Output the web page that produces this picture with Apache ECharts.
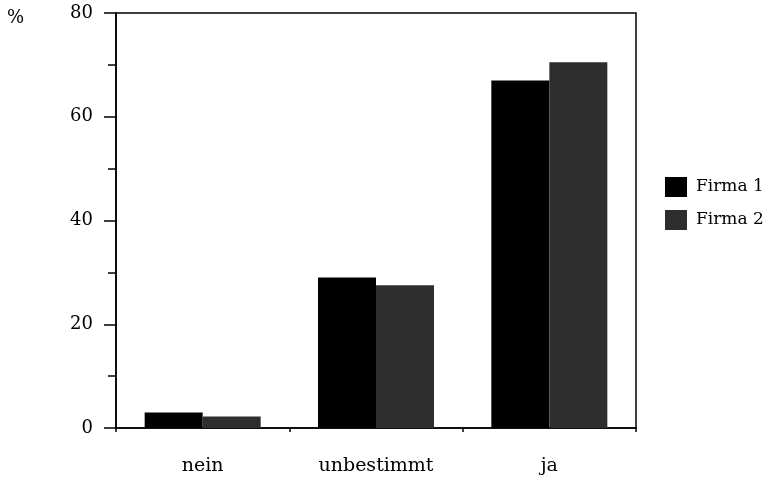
<!DOCTYPE html>
<html>
<head>
<meta charset="utf-8">
<script src="https://cdn.jsdelivr.net/npm/echarts@6/dist/echarts.min.js"></script>
<style>html,body{margin:0;padding:0;background:#fff}#c{width:771px;height:483px}</style>
</head>
<body>
<div id="c"></div>
<script>
const categories = ['nein', 'unbestimmt', 'ja'];
const firma1 = [3, 29, 67];
const firma2 = [2.2, 27.5, 70.5];
const seriesNames = ['Firma 1', 'Firma 2'];
const yTicks = [0, 20, 40, 60, 80];

const chart = echarts.init(document.getElementById('c'), null, {renderer: 'canvas'});
const font = 'DejaVu Serif';
chart.setOption({
  animation: false,
  backgroundColor: '#fff',
  title: {text: '%', left: 7, top: 9, padding: 0, textStyle: {fontFamily: font, fontSize: 18, fontWeight: 'normal', color: '#000'}},
  grid: {left: 116, right: 135, top: 13, bottom: 55, show: true, borderColor: '#000', borderWidth: 1.5, backgroundColor: 'transparent'},
  legend: {
    orient: 'vertical', left: 665, top: 177, padding: 0, itemWidth: 22, itemHeight: 20, itemGap: 13,
    icon: 'rect', data: seriesNames,
    textStyle: {fontFamily: font, fontSize: 17, color: '#000', padding: [0, 0, 0, 4]}
  },
  xAxis: {
    type: 'category', data: categories,
    axisLine: {lineStyle: {color: '#000', width: 1.5}},
    axisTick: {show: true, length: 4, lineStyle: {color: '#000', width: 1.5}},
    axisLabel: {fontFamily: font, fontSize: 19, color: '#000', margin: 29}
  },
  yAxis: {
    type: 'value', min: yTicks[0], max: yTicks[yTicks.length - 1], interval: 20,
    axisLine: {show: true, lineStyle: {color: '#000', width: 1.5}},
    axisTick: {show: true, length: 12, lineStyle: {color: '#000', width: 1.5}},
    minorTick: {show: true, splitNumber: 2, length: 8, lineStyle: {color: '#000', width: 1.5}},
    splitLine: {show: false},
    axisLabel: {fontFamily: font, fontSize: 18, color: '#000', margin: 23}
  },
  series: [
    {name: seriesNames[0], type: 'bar', data: firma1, barWidth: 58, barGap: '0%', itemStyle: {color: '#000'}},
    {name: seriesNames[1], type: 'bar', data: firma2, barWidth: 58, barGap: '0%', itemStyle: {color: '#2e2e2e'}}
  ]
});
</script>
</body>
</html>
